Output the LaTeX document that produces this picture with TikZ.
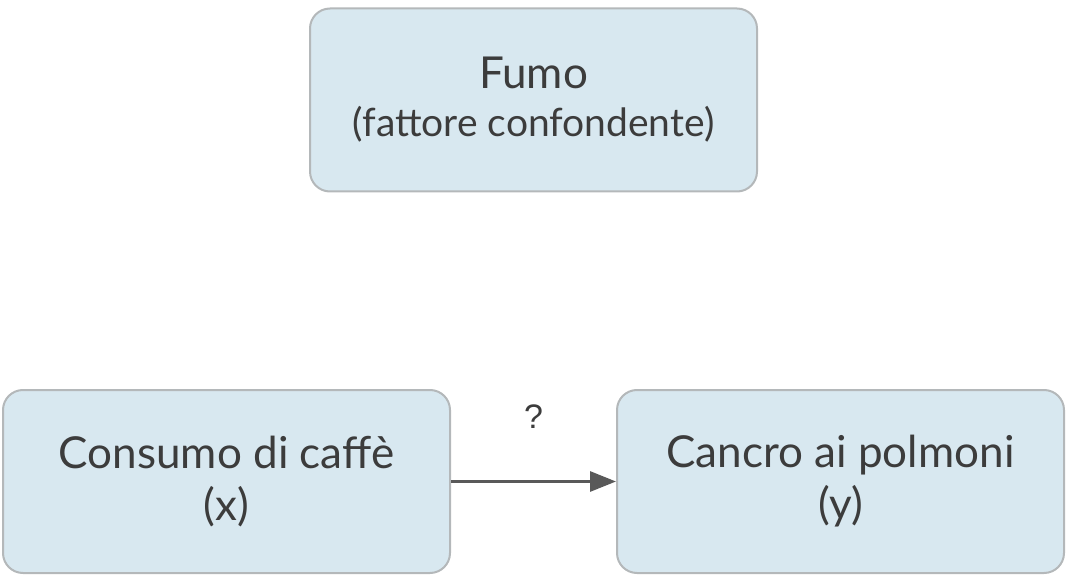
\documentclass[tikz,border=0pt]{standalone}
\usepackage{fontspec}
\setmainfont{Lato}
\newfontfamily\qfont{Liberation Sans}
\usetikzlibrary{arrows.meta}
\definecolor{boxfill}{HTML}{D8E8F0}
\definecolor{boxdraw}{HTML}{B4B8BA}
\definecolor{txt}{HTML}{3C3C3C}
\begin{document}
\begin{tikzpicture}[x=1pt,y=-1pt,
  box/.style={draw=boxdraw,line width=2pt,fill=boxfill,rounded corners=20pt,minimum width=447pt,minimum height=183pt,align=center,text=txt,font=\fontsize{44}{52}\selectfont}]
\useasboundingbox (0,0) rectangle (1066,580);
\node[box] (f) at (533.5,100) {Fumo\\[-4pt]{\fontsize{39}{46}\selectfont (fattore confondente)}};
\node[box] (x) at (226.5,481.5) {Consumo di caffè\\(x)};
\node[box] (y) at (840.5,481.5) {Cancro ai polmoni\\(y)};
\draw[draw=black!65,line width=3pt,-{Triangle[length=26pt,width=20pt]}] (x.east) -- node[above=48pt,text=txt,font=\qfont\fontsize{34}{40}\selectfont] (q) {?} (y.west);
\end{tikzpicture}
\end{document}
